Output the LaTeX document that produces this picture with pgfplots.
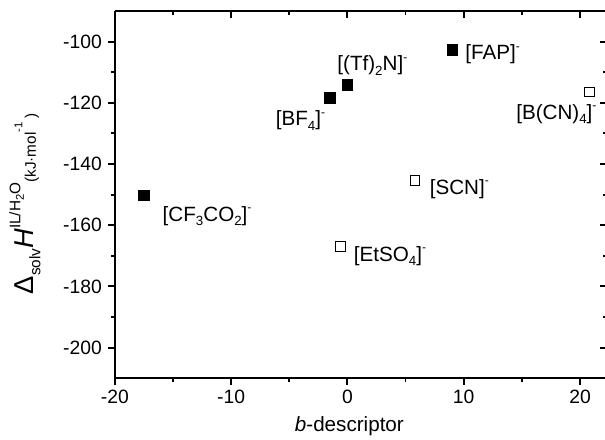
\documentclass[border=0pt]{standalone}
\usepackage{fontspec}
\setmainfont{Liberation Sans}
\usepackage{pgfplots}
\pgfplotsset{compat=1.18}
\newcommand\sub[1]{\raisebox{-3.5pt}{\fontsize{10}{12}\selectfont #1}}
\newcommand\chg{\raisebox{7pt}{\fontsize{9}{11}\selectfont -}}
\begin{document}
\begin{tikzpicture}
\pgfplotsset{
  base/.style={
    scale only axis, width=369.6pt, height=275.9pt,
    xmin=-20, xmax=22.3, ymin=-210, ymax=-90,
    xtick={-20,-10,...,20}, ytick={-200,-180,...,-100},
    minor x tick num=1, minor y tick num=1,
    major tick length=5.25pt, minor tick length=3pt,
    every tick/.style={black, line width=1.4pt},
    axis line style={line width=1.5pt},
    tick label style={font=\fontsize{14.5}{17}\selectfont},
    /pgf/number format/assume math mode=true,
  }
}
\begin{axis}[base, axis x line*=bottom, axis y line*=left, tick align=outside, clip=false,
  yticklabel style={xshift=-1pt}]
\addplot[only marks, mark=square*, mark size=3.9pt, mark options={fill=black, draw=black, line width=0.4pt}]
  coordinates {(-17.5,-150.2) (-1.5,-118.4) (0,-114.1) (9,-102.7)};
\addplot[only marks, mark=square, mark size=3.6pt, mark options={draw=black, fill=white, line width=0.75pt}]
  coordinates {(20.8,-116.5) (5.8,-145.4) (-0.6,-166.9)};
\begin{scope}[every node/.style={anchor=base west, inner sep=0pt, font=\fontsize{15.5}{18}\selectfont}]
\node at (axis cs:-15.9,-158.7) {[CF\sub{3}CO\sub{2}]\chg};
\node at (axis cs:-6.18,-127.4) {[BF\sub{4}]\chg};
\node at (axis cs:-0.88,-109.5) {[(Tf)\sub{2}N]\chg};
\node at (axis cs:10.13,-105.9) {[FAP]\chg};
\node at (axis cs:14.5,-125.4) {[B(CN)\sub{4}]\chg};
\node at (axis cs:7.06,-149.9) {[SCN]\chg};
\node at (axis cs:0.54,-171.8) {[EtSO\sub{4}]\chg};
\end{scope}
\coordinate (SW) at (axis cs:-20,-210);
\coordinate (NE) at (axis cs:22.15,-90);
\coordinate (YL) at (axis cs:-20,-153);
\coordinate (XL) at (axis cs:0.17,-210);
\end{axis}
\begin{axis}[base, axis x line*=top, axis y line*=right, tick align=inside,
  xticklabels={}, yticklabels={}]
\end{axis}
\node[rotate=90, anchor=center, inner sep=0pt] at ([xshift=-67.5pt]YL)
 {\fontsize{20.5}{24}\selectfont Δ\raisebox{-5pt}{\fontsize{11.5}{13}\selectfont solv}\textit{H}\raisebox{10pt}{\fontsize{11.5}{13}\selectfont IL/H\raisebox{-2.5pt}{\fontsize{8.5}{10}\selectfont 2}O}\raisebox{-1.5pt}{\fontsize{11.5}{13}\selectfont (kJ·mol\raisebox{10pt}{\fontsize{8.5}{10}\selectfont -1}\hspace{3pt})}};
\node[anchor=center, font=\fontsize{15.5}{18}\selectfont] at ([yshift=-36pt]XL) {\textit{b}-descriptor};
\pgfresetboundingbox
\path ([shift={(-86.25pt,-46.3pt)}]SW) rectangle ([yshift=8.25pt]NE);
\end{tikzpicture}
\end{document}
